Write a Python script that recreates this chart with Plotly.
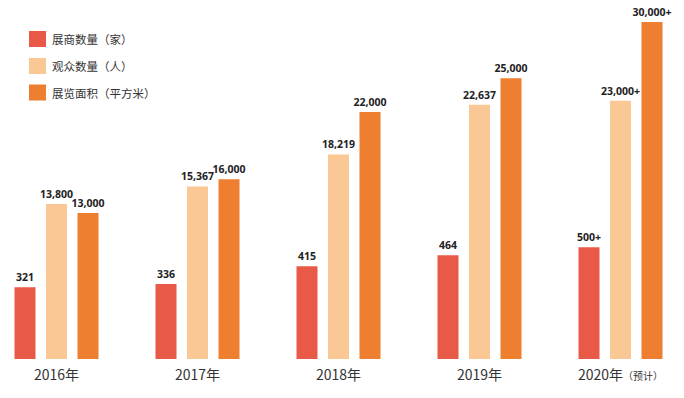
import plotly.graph_objects as go

years = ["2016年", "2017年", "2018年", "2019年", "2020年"]
year_suffix = ["", "", "", "", "（预计）"]
exhibitors = [321, 336, 415, 464, 500]
visitors = [13800, 15367, 18219, 22637, 23000]
area = [13000, 16000, 22000, 25000, 30000]
exhibitor_labels = ["321", "336", "415", "464", "500+"]
visitor_labels = ["13,800", "15,367", "18,219", "22,637", "23,000+"]
area_labels = ["13,000", "16,000", "22,000", "25,000", "30,000+"]
series_names = ["展商数量（家）", "观众数量（人）", "展览面积（平方米）"]
colors = ["#E85A47", "#FAC895", "#EE7E30"]

W, H = 684, 398
BASELINE = 359
BOTTOM = H - BASELINE
PLOT_H = BASELINE
PX_PER_CAT = 141.0
FIRST_CENTER = 56.5

xs = list(range(len(years)))
bar_w = 21 / PX_PER_CAT
step = 31.5 / PX_PER_CAT

ticktext = []
for y, s in zip(years, year_suffix):
    if s:
        ticktext.append(f"{y}<span style='font-size:10px'>{s}</span>")
    else:
        ticktext.append(y)

label_font = dict(family="Open Sans, Liberation Sans, sans-serif", size=10.5, color="#222222", weight="bold")

fig = go.Figure()
series = [
    (exhibitors, exhibitor_labels, "y2"),
    (visitors, visitor_labels, "y"),
    (area, area_labels, "y"),
]
for i, (vals, labels, yax) in enumerate(series):
    fig.add_trace(go.Bar(
        x=xs, y=vals, text=labels, name=series_names[i],
        yaxis=yax,
        width=bar_w,
        offset=(i - 1) * step - bar_w / 2,
        marker=dict(color=colors[i], line=dict(width=0)),
        textposition="outside",
        constraintext="none",
        textfont=label_font,
        cliponaxis=False,
        showlegend=False,
        hoverinfo="skip",
    ))

x0 = -FIRST_CENTER / PX_PER_CAT
x1 = (W - FIRST_CENTER) / PX_PER_CAT
scale_main = 0.01123
scale_ex = 0.2235

fig.update_layout(
    width=W, height=H,
    margin=dict(l=0, r=0, t=0, b=BOTTOM),
    paper_bgcolor="white", plot_bgcolor="white",
    barmode="overlay",
    xaxis=dict(
        range=[x0, x1], tickmode="array", tickvals=xs, ticktext=ticktext,
        showgrid=False, zeroline=False, showline=False, ticks="",
        ticklabelstandoff=6,
        tickfont=dict(family="Noto Sans CJK SC, sans-serif", size=14, color="#333333"),
    ),
    yaxis=dict(range=[0, PLOT_H / scale_main], visible=False, showgrid=False),
    yaxis2=dict(range=[0, PLOT_H / scale_ex], visible=False, showgrid=False,
                overlaying="y", side="right"),
)

def py(ypix):
    return (PLOT_H - ypix) / PLOT_H

def px(xpix):
    return xpix / W

legend_y = [39, 66, 92.5]
for i, name in enumerate(series_names):
    fig.add_shape(type="rect", xref="paper", yref="paper",
                  x0=px(29), x1=px(46), y0=py(legend_y[i] + 8), y1=py(legend_y[i] - 8),
                  fillcolor=colors[i], line=dict(width=0))
    fig.add_annotation(xref="paper", yref="paper", x=px(50), y=py(legend_y[i]),
                       text=name, showarrow=False, xanchor="left", yanchor="middle",
                       font=dict(family="Noto Sans CJK SC, sans-serif", size=11.5, color="#333333"))

fig.write_html("out.html", config={"displayModeBar": False},
               post_script="document.body.style.margin='0px';")
